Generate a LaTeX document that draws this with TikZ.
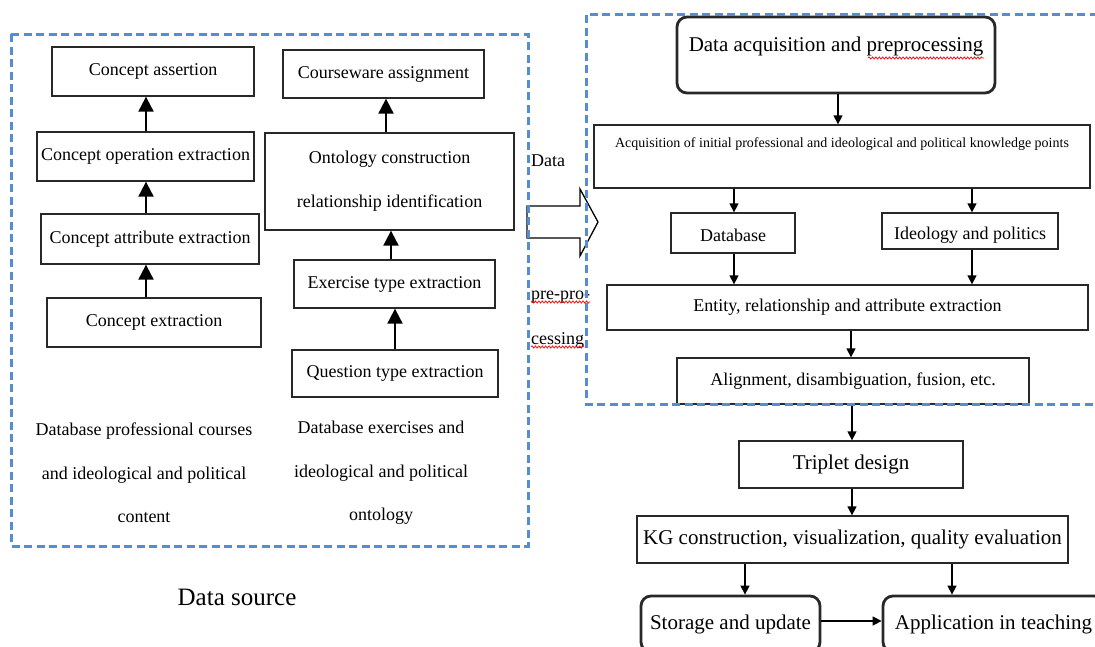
\documentclass[tikz,border=0pt]{standalone}
\usepackage{fontspec}
\setmainfont{Liberation Serif}
\usetikzlibrary{arrows.meta,decorations.pathmorphing}
\definecolor{dashblue}{RGB}{84,141,212}
\definecolor{boxline}{RGB}{40,40,40}
\tikzset{
 box/.style={draw=boxline, line width=1.3pt, inner sep=0pt, align=center, font=\fontsize{18}{20}\selectfont},
 rbox/.style={box, rounded corners=10pt, line width=2.8pt},
 big/.style={font=\fontsize{21}{24}\selectfont},
 grp/.style={draw=dashblue, line width=3pt, dash pattern=on 8pt off 4.5pt},
 arrL/.style={draw=black, line width=2pt, -{Triangle[length=15pt,width=15pt]}},
 arrR/.style={draw=black, line width=1.4pt, -{Triangle[length=9pt,width=9pt]}},
 wavy/.style={draw=red, line width=0.7pt, decorate, decoration={snake, amplitude=1.1pt, segment length=3.4pt}},
 lbl/.style={inner sep=0pt, font=\fontsize{18}{20}\selectfont},
 hollow/.style={draw=black, line width=1.3pt, fill=white},
}
\newcommand{\bx}[7]{\node[#1, minimum width={(#5-#3)*1pt}, minimum height={(#6-#4)*1pt}] (#2) at ({(#3+#5)/2},{(#4+#6)/2}) {#7};}
\begin{document}
\begin{tikzpicture}[x=1pt,y=-1pt]
\useasboundingbox (0,0) rectangle (1095,646);
\fill[white] (0,0) rectangle (1095,646);

% ---------- left column ----------
\bx{box}{ca}{52}{47}{254}{96}{Concept assertion}
\bx{box}{cop}{37}{132}{254}{181}{Concept operation extraction}
\bx{box}{cat}{41}{214}{259}{264}{Concept attribute extraction}
\bx{box}{ce}{47}{298}{261}{347}{Concept extraction}

\bx{box}{cw}{283}{50}{484}{98}{Courseware assignment}
\bx{box, font=\fontsize{18}{44}\selectfont}{ont}{265}{133}{514}{230}{Ontology construction\\relationship identification}
\bx{box}{ex}{294}{260}{495}{308}{Exercise type extraction}
\bx{box}{qt}{292}{350}{498}{397}{Question type extraction}

\coordinate (xa) at (146,0);
\coordinate (xb) at (386,0);
\coordinate (xc) at (391,0);
\coordinate (xd) at (395,0);
\draw[arrL] (cop.north -| xa) -- (ca.south -| xa);
\draw[arrL] (cat.north -| xa) -- (cop.south -| xa);
\draw[arrL] (ce.north -| xa) -- (cat.south -| xa);
\draw[arrL] (ont.north -| xb) -- (cw.south -| xb);
\draw[arrL] (ex.north -| xc) -- (ont.south -| xc);
\draw[arrL] (qt.north -| xd) -- (ex.south -| xd);

\node[lbl, align=center, font=\fontsize{18}{43.5}\selectfont] (srcl) at (144,473) {Database professional courses\\and ideological and political\\content};
\node[lbl, align=center, font=\fontsize{18}{43.5}\selectfont] (srcr) at (381,473) {Database exercises and\\ideological and political\\ontology};
\node[lbl, font=\fontsize{25}{28}\selectfont] (dsrc) at (237,597) {Data source};

% ---------- middle ----------
\draw[hollow] (527,206) -- (580,206) -- (580,189) -- (598,222) -- (580,256) -- (580,238) -- (527,238) -- cycle;
\node[lbl, anchor=base west] (dt) at (531,166) {Data};
\node[lbl, anchor=base west] (pp) at (531,299) {pre-pro-};
\node[lbl, anchor=base west] (cs) at (531,344) {cessing};
\draw[wavy] ([yshift=-3pt]pp.base west) -- ([yshift=-3pt]pp.base east);
\draw[wavy] ([yshift=-3pt]cs.base west) -- ([yshift=-3pt]cs.base east);

% ---------- right ----------
\bx{rbox}{hd}{677}{17}{995}{93}{}
\node[lbl, big] (hdt) at (836,46) {Data acquisition and preprocessing};
\draw[wavy] (868,58) -- (984,58);
\bx{box}{acq}{594}{125}{1090}{188}{}
\node[lbl, font=\fontsize{14}{16}\selectfont] (acqt) at (842,144) {Acquisition of initial professional and ideological and political knowledge points};
\bx{box}{db}{671}{213}{795}{253}{}
\node[lbl] (dbt) at (733,235) {Database};
\bx{box}{ip}{882}{213}{1058}{249}{}
\node[lbl] (ipt) at (970,235) {Ideology and politics};
\bx{box}{ent}{607}{285}{1088}{330}{Entity, relationship and attribute extraction}
\bx{box}{al}{677}{358}{1029}{404}{Alignment, disambiguation, fusion, etc.}
\bx{box, big}{tri}{739}{441}{963}{488}{Triplet design}
\bx{box, big}{kg}{637}{516}{1068}{563}{KG construction, visualization, quality evaluation}
\bx{rbox, big}{st}{641}{596}{820}{652}{Storage and update}
\bx{rbox, big}{app}{883}{596}{1104}{652}{Application in teaching}

\coordinate (x1) at (838,0);
\coordinate (x2) at (734,0);
\coordinate (x3) at (972,0);
\coordinate (x4) at (851,0);
\coordinate (x5) at (852,0);
\coordinate (x6) at (745,0);
\coordinate (x7) at (952,0);
\draw[arrR] (hd.south -| x1) -- (acq.north -| x1);
\draw[arrR] (acq.south -| x2) -- (db.north -| x2);
\draw[arrR] (acq.south -| x3) -- (ip.north -| x3);
\draw[arrR] (db.south -| x2) -- (ent.north -| x2);
\draw[arrR] (ip.south -| x3) -- (ent.north -| x3);
\draw[arrR] (ent.south -| x4) -- (al.north -| x4);
\draw[arrR] (al.south -| x5) -- (tri.north -| x5);
\draw[arrR] (tri.south -| x5) -- (kg.north -| x5);
\draw[arrR] (kg.south -| x6) -- (st.north -| x6);
\draw[arrR] (kg.south -| x7) -- (app.north -| x7);
\coordinate (yh) at (0,621);
\draw[arrR] (st.east |- yh) -- (app.west |- yh);

% ---------- dashed groups ----------
\draw[grp] (11,34) rectangle (528,546);
\draw[grp] (1110,14) -- (586,14) -- (586,404) -- (1110,404);
\end{tikzpicture}
\end{document}
